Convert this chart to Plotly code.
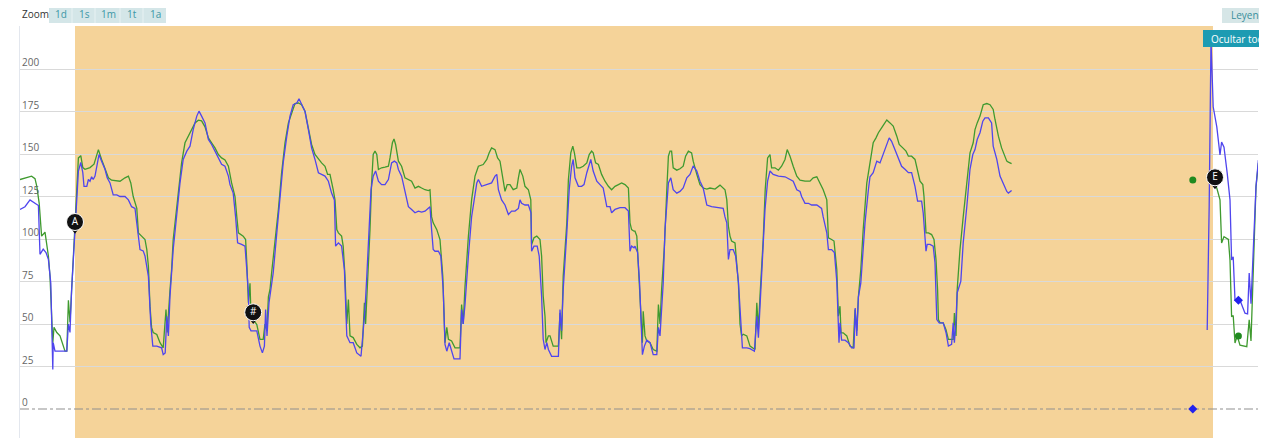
import plotly.graph_objects as go

# ---------------- data (time in hours, values in %) ----------------
green_t = [0.0, 2.9, 3.75, 4.2, 4.8, 5.2, 5.4, 6.25, 6.7, 7.1, 7.5, 7.9, 8.2, 8.5, 9.2, 10.0, 10.8, 11.25, 11.7,
           12.1, 12.5, 12.9, 13.3, 13.75, 14.2, 14.6, 15.2, 15.7, 16.25, 17.5, 18.5, 19.2, 19.6, 20.4, 21.25, 22.1,
           22.9, 25.0, 26.25, 27.1, 27.7, 28.3, 29.2, 29.6, 30.4, 31.25, 31.7, 32.1, 32.5, 32.9, 33.3, 34.2, 35.0,
           35.8, 36.5, 36.8, 37.5, 37.9, 38.3, 38.75, 39.6, 40.4, 41.25, 42.1, 42.9, 43.75, 44.6, 45.4, 46.25, 47.1,
           47.9, 48.75, 49.6, 50.4,
           51.25, 52.1, 52.9, 53.75, 54.2, 54.6, 55.8, 56.4, 56.7, 57.1, 57.5, 57.75, 58.3, 59.2, 60.0, 60.8, 61.25,
           61.7, 62.1, 62.5, 62.9, 63.75, 64.6, 65.4, 66.25, 67.1, 67.9, 68.75, 69.6, 70.4, 71.25, 72.1, 72.9, 73.75,
           74.6, 75.4, 76.25, 76.9, 77.5, 77.9, 78.3, 78.75, 79.2, 79.6, 80.4, 80.8, 81.25, 81.7, 82.1, 82.5, 83.3,
           84.2, 85.0, 85.6, 86.1, 86.4, 86.9, 87.5, 87.9, 88.3, 88.75, 89.2, 89.6, 90.4, 91.25, 92.1, 92.5, 93.1,
           93.5, 93.9, 94.6, 95.4, 96.25, 97.1, 97.9, 98.75, 99.6, 100.4, 101.25, 102.1,
           102.5, 102.9, 103.3, 104.2, 105.0, 105.7, 106.25, 106.7, 107.1, 107.9, 108.75, 110.0, 110.4, 110.8,
           111.25, 112.1, 112.9, 113.75, 114.6, 115.8, 116.7, 117.3, 117.9, 118.75, 119.4, 120.0, 120.7, 121.25,
           121.8, 122.5, 123.3, 124.2, 124.6, 125.0, 125.7, 126.25, 127.1, 127.7, 127.9, 128.5, 129.2, 130.0, 130.4,
           130.8, 131.25, 131.5, 132.1, 132.5, 133.3, 134.6, 135.0, 135.4, 135.8, 136.7, 137.1, 137.7, 138.2, 138.6,
           139.2, 140.0, 140.8, 141.7, 142.3, 142.9, 143.3, 143.9, 144.6, 145.4, 146.25, 147.1, 147.9, 148.75,
           149.6, 150.4, 151.25, 152.1, 152.5, 152.9, 153.5,
           153.75, 154.2, 154.75, 155.25, 155.6, 155.8, 156.25, 156.7, 157.5, 158.3, 159.2, 159.6, 160.0, 160.4,
           161.1, 161.7, 162.1, 162.5, 162.9, 163.3, 164.2, 165.0, 165.8, 166.4, 167.1, 167.9, 168.3, 169.2, 170.0,
           170.8, 171.7, 172.5, 173.75, 175.0, 176.25, 176.7, 177.1, 177.5, 177.9, 178.75, 179.2, 179.6, 180.0,
           180.4, 180.8, 181.7, 182.5, 183.75, 184.2, 184.6, 185.0, 185.8, 186.3, 186.9, 187.5, 187.9, 188.75,
           189.6, 190.4, 191.25, 191.8, 192.5, 193.3, 194.2, 195.0, 196.25, 197.5, 198.3, 199.2, 199.75, 200.8,
           201.7, 202.1, 202.9, 203.5, 204.2, 204.6,
           205.0, 205.25, 205.8, 206.7, 207.5, 208.3, 208.75, 209.2, 209.6, 210.2, 210.8, 211.7, 212.5, 213.3,
           214.0, 214.6, 215.4, 216.0, 216.7, 217.5, 218.3, 219.2, 219.8, 220.7, 221.5, 222.1, 222.9, 223.75,
           224.3, 225.0, 225.7, 226.0, 226.5, 227.1, 227.9, 228.5, 229.0, 229.4, 229.6, 230.0, 230.8, 231.5,
           232.1, 233.3, 233.6, 234.0, 234.3, 235.0, 235.8, 236.7, 237.5, 238.3, 238.75, 239.3, 240.0, 240.8,
           241.7, 242.5, 243.3, 243.75, 244.6, 245.4, 246.25, 246.7, 247.1, 247.9,
           None,
           297.9, 298.3, 299.2, 300.0, 300.4, 301.0, 302.1, 302.5, 302.9, 303.3, 303.75, 304.3, 305.0, 306.7,
           307.3, 307.75, 308.5, 309.0, 309.6]
green_v = [135, 137, 135.5, 131, 121, 109, 101.7, 104, 97, 90, 78, 60, 39, 48, 45, 43, 37, 34, 34,
           64, 51, 70, 82, 109.5, 133, 147.7, 149, 142, 141, 142, 144, 149, 152.6, 146.8, 141, 136,
           134.6, 134, 136, 137, 133, 125, 118, 103.6, 101.7, 99.7, 93.8, 84, 60.5, 48, 45, 43.8, 39,
           36, 58.5, 45, 70, 82, 99.7, 109.5, 127, 144.8, 156.6, 160.5, 164.4, 168.3, 169.9, 169.5, 166, 159.5,
           156.6, 153.6, 149.7, 147.7,
           146.5, 142.8, 133, 125, 113, 103.6, 101.7, 99.7, 86, 62.5, 74, 54.6, 52.6, 49.7, 41, 41, 50,
           46, 66, 70.3, 80, 97.7, 117.4, 139, 156.6, 168.3, 174.2, 179.7, 180, 179, 175.2, 164.4, 155.6, 149.7,
           146.8, 144.8, 142.8, 138, 138, 134, 129, 123, 105.5, 103.6, 101.7, 95.8, 78, 50, 64.4, 43, 42,
           38, 36, 37, 62.5, 50, 74, 105.5, 133, 149.7, 151.7, 149.7, 140.9, 141.9, 142.3, 142.8, 147.7, 156.6,
           158.9, 155.6, 145.8, 142.8, 136, 135, 134, 130, 131, 130, 129, 128.5,
           129, 113, 109.5, 105.5, 99.7, 78, 39, 48, 41, 40, 36, 36, 61.4, 50,
           72, 101.7, 123, 137, 142.8, 143.8, 146.8, 150.7, 153.6, 152.6, 147.7, 145.8, 137, 128,
           132, 132, 129, 130, 136, 140.9, 137, 131, 129, 123, 96.8, 100.7, 101.7, 99.7, 90,
           66.4, 54.6, 39, 43, 43, 37, 37, 56.5, 41, 78, 109.5, 135, 150.7, 154.6, 150.7,
           141.9, 141.9, 142.8, 144.8, 149.7, 151.7, 150.7, 144.8, 143.8, 138, 134, 131, 129, 131,
           132, 133, 132, 130, 109.5, 105.5, 104.6,
           104.6, 101.7, 78, 50, 39, 57.5, 43, 40, 39, 35, 34, 61.4, 50, 70.3,
           95.8, 129, 148.7, 151.7, 151.7, 141.9, 140.5, 141.3, 142.8, 148.7, 151.7, 150.7, 145.8, 138, 132,
           130, 129.4, 130, 129.4, 131.7, 129, 123, 107.5, 101.7, 98.8, 97.7, 86, 74, 50,
           43, 44, 43, 37, 35, 62.5, 47, 66.4, 99.7, 129, 147.7, 149.7, 141.9, 141.9,
           140.5, 142.8, 146.8, 152.6, 148.7, 142.8, 137, 134.6, 134, 134, 136, 136.6, 134, 129,
           123, 100.7, 99.7, 98.8, 82, 54.6,
           60.5, 44.8, 44.8, 43, 37, 36, 58.5, 46, 66, 82, 105.6, 133, 144.8, 156.6,
           159.5, 162.5, 165.4, 167.4, 170, 168.3, 166.4, 160.5, 155.6, 153.6, 151.7, 148.7, 148.7, 146.8,
           141, 134, 132, 125, 103.6, 103.6, 102.6, 99.7, 87.9, 70, 52.6, 50.7, 50.7, 46.7,
           41, 41, 56.5, 43, 70.3, 93.8, 113, 133, 150.7, 156.6, 164.4, 168.3, 172.3, 179,
           179.7, 179, 176.2, 170.3, 160.5, 153.6, 148.7, 145.8, 145.2, 144.4,
           None,
           134, 132.7, 130, 123, 97.6, 101.4, 99.8, 87.6, 54.3, 55, 38.8, 43, 37.6, 36.7,
           52.4, 40, 103.5, 130.8, 144.7]

blue_t = [0.0, 1.25, 2.5, 3.75, 4.6, 5.0, 5.8, 6.5, 7.1, 7.7, 8.0, 8.2, 8.3, 8.75, 10.0, 11.7, 12.1, 12.5, 12.9,
          13.3, 13.75, 14.2, 14.6, 15.2, 15.7, 16.0, 16.7, 17.1, 17.5, 17.9, 18.3, 18.75, 19.2, 19.75, 20.4, 21.25,
          21.8, 22.5, 23.3, 24.2, 25.0, 26.25, 27.1, 27.9, 28.75, 29.6, 30.0, 30.8, 31.25, 32.1, 32.7, 33.2, 34.2,
          35.4, 35.8, 36.3, 36.7, 37.1, 37.5, 38.3, 39.2, 40.0, 40.8, 41.7, 42.5, 43.3, 44.2, 44.75, 45.4, 46.25,
          47.1, 47.9, 48.75, 49.6, 50.4,
          51.25, 52.1, 52.5, 53.3, 53.9, 54.4, 55.4, 56.25, 56.7, 57.1, 57.3, 57.75, 59.2, 59.6, 60.0, 60.6, 61.1,
          61.4, 61.75, 62.25, 62.75, 63.3, 64.2, 65.0, 65.8, 66.7, 67.5, 68.3, 69.2, 69.75, 70.4, 71.25, 72.1,
          72.9, 73.75, 74.6, 75.4, 76.25, 77.1, 77.9, 78.6, 78.9, 79.6, 80.4, 81.1, 81.7, 82.5, 83.3, 84.2, 85.25,
          85.8, 86.25, 86.7, 87.1, 87.75, 88.3, 88.9, 89.6, 90.4, 91.25, 92.1, 92.9, 93.6, 94.2, 94.6, 95.4, 96.25,
          97.1, 97.9, 98.75, 99.6, 100.4, 101.25, 102.1,
          102.5, 102.9, 103.3, 103.75, 104.6, 105.2, 105.8, 106.25, 106.7, 107.3, 107.9, 108.5, 110.0, 110.4,
          110.8, 111.25, 112.1, 112.9, 114.2, 114.6, 115.4, 116.7, 117.9, 118.75, 119.2, 119.6, 120.4, 121.25,
          122.1, 122.9, 123.75, 124.6, 125.0, 125.4, 126.25, 127.1, 127.75, 127.9, 128.5, 129.3, 129.8, 130.4,
          130.8, 131.25, 131.7, 132.1, 132.9, 134.6, 135.0, 135.4, 135.8, 136.7, 137.3, 137.9, 138.3, 138.75,
          139.6, 140.4, 141.0, 141.7, 142.3, 142.7, 143.3, 144.2, 145.0, 145.8, 146.7, 147.5, 147.9, 148.75,
          150.0, 151.25, 152.1, 152.5, 152.9, 153.5,
          153.75, 154.4, 154.9, 155.25, 155.6, 156.1, 156.7, 157.5, 158.3, 159.2, 159.6, 160.0, 160.4, 160.8,
          161.25, 161.7, 162.1, 162.7, 163.3, 164.2, 165.0, 165.8, 166.7, 167.5, 168.3, 169.2, 170.0, 170.8,
          171.25, 171.7, 172.9, 174.6, 175.8, 176.25, 176.7, 177.1, 177.5, 178.3, 178.9, 179.6, 180.25, 180.6,
          181.7, 182.5, 183.6, 184.2, 184.6, 185.0, 185.6, 186.25, 186.9, 187.5, 188.3, 189.6, 191.25, 192.5,
          193.3, 194.2, 195.0, 195.4, 196.25, 197.1, 197.9, 199.2, 200.4, 200.8, 201.7, 202.1, 202.9, 203.6,
          204.2, 204.75,
          205.0, 205.4, 206.25, 207.1, 207.9, 208.5, 208.8, 209.2, 209.6, 210.2, 210.6, 211.25, 212.1, 212.5,
          213.3, 214.2, 215.0, 215.8, 216.7, 217.3, 217.9, 218.75, 219.6, 220.4, 221.25, 222.1, 222.9, 223.75,
          224.4, 225.4, 225.8, 226.25, 226.5, 226.8, 227.5, 228.3, 228.75, 229.2, 229.8, 230.8, 231.5, 232.1,
          232.9, 233.3, 233.6, 234.0, 234.3, 235.2, 235.8, 236.7, 237.5, 238.2, 238.75, 239.3, 240.0, 240.7,
          241.25, 242.1, 242.9, 243.3, 244.2, 245.0, 245.7, 246.25, 246.7, 247.1, 247.9,
          None,
          296.8, 297.3, 297.75, 298.3, 299.2, 300.0, 300.4, 301.0, 301.8, 302.5, 302.9, 303.3, 303.75, 305.0,
          306.25, 306.9, 307.3, 307.75, 308.5, 309.0, 309.6]
blue_v = [117.4, 119, 123, 121, 119.7, 91, 94, 92, 88, 74, 50, 23.2, 39, 34, 34, 34, 50, 45, 70,
          86, 107.5, 125, 140, 145, 139, 131, 131, 135, 134, 136.6, 135, 137, 144, 149.7, 145.8, 141,
          136, 133, 126, 126, 125, 125, 123, 119, 118, 101.7, 93.8, 93, 90, 78, 50, 37, 37,
          36, 32, 33, 54.6, 43, 66.4, 93.8, 115.4, 133, 146.8, 151.7, 154.6, 164.4, 172.3, 175.2, 172.3, 168.3,
          158.5, 155.6, 151.7, 147.7, 144,
          142.8, 137, 132, 127, 113, 97.7, 96.8, 95.8, 82, 68.3, 48, 46, 46, 41, 37, 33, 37,
          58.5, 43, 62.5, 70.3, 80, 103.6, 123, 144.8, 160.5, 172.3, 179, 180, 182.5, 179, 175, 164.4,
          153.6, 146.8, 139, 138, 137, 134, 127, 123, 95.8, 97.7, 95.8, 82, 43, 39, 39, 33, 31,
          46, 58.5, 78, 99.7, 129, 137, 140, 134, 132, 132, 135, 144.8, 145.8, 144.8, 140.9, 137, 127,
          119, 117.4, 115.4, 116.4, 115.8, 116.4, 118,
          119, 105.5, 93.8, 92.8, 92.8, 90, 70.3, 38, 34, 39, 34, 29.5, 29.5, 58.5,
          50, 61.4, 90, 113, 133, 135, 131, 132, 133, 137, 138, 129, 123, 120,
          114.4, 116.4, 116.4, 118, 123, 121, 120, 120, 115.4, 92.8, 95.8, 95.8, 90, 66.4,
          41, 35, 39, 35, 31, 31, 58.5, 46, 70.3, 103.6, 129, 142.8, 146.8, 136,
          131, 131, 132, 139, 144, 146.8, 140, 134, 132, 130, 119, 119, 115.4, 117.4,
          118.4, 118.4, 116.4, 92.8, 95.8, 94.8,
          95.8, 92, 74, 46, 32, 37, 40.5, 39, 32, 32, 48, 43, 62.5, 74,
          105.6, 123, 133, 136, 129, 127, 128, 130, 136, 138, 143, 140, 134, 130,
          125, 120, 119, 118.6, 118, 113, 109.5, 88, 93.8, 93.8, 90, 75, 44.8, 36,
          36, 35.5, 34, 54.6, 42, 61.4, 90, 117.4, 134, 140, 138, 137, 136.6, 135,
          134, 129, 128, 125, 121, 121, 120, 120, 118, 113, 103.6, 93.8, 93.8, 92,
          75, 39,
          50.7, 40.5, 40.5, 39, 36, 36, 59.4, 43, 66, 74, 90, 109.5, 129, 136.6,
          139, 145.8, 144.8, 149.7, 155.6, 159.5, 157.5, 152.6, 146.8, 142.8, 141, 139, 139, 131,
          122.3, 122.3, 115.4, 101.7, 92.8, 96.8, 96.8, 95.8, 86, 52.6, 50.7, 50.7, 45, 37,
          38, 50.7, 39, 52.6, 68.4, 75, 97.7, 119, 141, 149.7, 152.6, 158.5, 162.5, 169.3,
          171.3, 171.3, 168.3, 154.6, 146.8, 137, 133, 131, 128, 127, 128.5,
          None,
          46.5, 120, 217, 177.8, 166, 149.4, 157, 154, 138.8, 123, 87.6, 89.6, 64, 64,
          56.4, 56, 80, 62, 103.5, 130.8, 146.5]

zero_t = [0, 309.5]
zero_v = [0, 0]

green_pts_t = [293.2, 304.6]
green_pts_v = [134.7, 43]
blue_pts_t = [293.2, 304.6]
blue_pts_v = [0, 64]

flag_t = [13.75, 58.3, 298.75]
flag_v = [110, 56.9, 136.3]
flag_text = ["A", "#", "E"]

band_start, band_end = 13.75, 298.25
y_ticks = [0, 25, 50, 75, 100, 125, 150, 175, 200]
zoom_buttons = ["1d", "1s", "1m", "1t", "1a"]

# ---------------- figure ----------------
OFF = 8                      # page body margin of the browser
PAGE_W, PAGE_H = 1267, 438
W, H = PAGE_W - OFF, PAGE_H - OFF
L, R, T, B = 20 - OFF, 9, 26 - OFF, 0
GREEN = "#3f9a2f"
BLUE = "#4f45ee"

fig = go.Figure()

fig.add_trace(go.Scatter(x=zero_t, y=zero_v, mode="lines",
                         line=dict(color="#8f8f8f", width=1.2, dash="dashdot"), hoverinfo="skip"))
fig.add_trace(go.Scatter(x=green_t, y=green_v, mode="lines", connectgaps=False,
                         line=dict(color=GREEN, width=1.3), name="verde"))
fig.add_trace(go.Scatter(x=blue_t, y=blue_v, mode="lines", connectgaps=False,
                         line=dict(color=BLUE, width=1.3), name="azul"))
fig.add_trace(go.Scatter(x=green_pts_t, y=green_pts_v, mode="markers",
                         marker=dict(color="#1f8a1f", size=7, symbol="circle")))
fig.add_trace(go.Scatter(x=blue_pts_t, y=blue_pts_v, mode="markers",
                         marker=dict(color="#2222ee", size=7, symbol="diamond")))
# flag pins
fig.add_trace(go.Scatter(x=flag_t, y=[v - 5.2 for v in flag_v], mode="markers",
                         marker=dict(color="#111111", size=6, symbol="triangle-down")))
fig.add_trace(go.Scatter(x=flag_t, y=flag_v, mode="markers+text", text=flag_text,
                         textposition="middle center",
                         textfont=dict(color="white", size=10, family="Open Sans"),
                         marker=dict(color="#111111", size=17, symbol="circle",
                                     line=dict(color="white", width=1))))

def px_x(px):
    return (px - OFF - L) / (W - L - R)

def px_y(py):
    return (OFF + H - B - py) / (H - T - B)

shapes = [
    dict(type="rect", xref="x", yref="paper", x0=band_start, x1=band_end, y0=0, y1=1,
         fillcolor="#f5d399", line_width=0, layer="below"),
    # zoom buttons
    dict(type="rect", xref="paper", yref="paper", x0=px_x(49), x1=px_x(166), y0=px_y(23), y1=px_y(6),
         fillcolor="#d4e6e8", line_width=0, layer="above"),
    # legend button
    dict(type="rect", xref="paper", yref="paper", x0=px_x(1222), x1=px_x(1275), y0=px_y(23), y1=px_y(7),
         fillcolor="#d6e6e7", line_width=0, layer="above"),
    # hide all button
    dict(type="rect", xref="paper", yref="paper", x0=px_x(1203), x1=px_x(1275), y0=px_y(47), y1=px_y(30),
         fillcolor="#1d9bb2", line_width=0, layer="above"),
]
for sep in [72, 95, 120, 143]:
    shapes.append(dict(type="line", xref="paper", yref="paper", x0=px_x(sep), x1=px_x(sep),
                       y0=px_y(23), y1=px_y(6), line=dict(color="#e8f2f3", width=1), layer="above"))

annotations = []
for v in y_ticks:
    annotations.append(dict(x=0, xref="paper", y=v, yref="y", text=str(v), showarrow=False,
                            xanchor="left", yanchor="bottom", xshift=0, yshift=-2,
                            font=dict(size=10, color="#666666", family="Open Sans")))
annotations.append(dict(x=px_x(20), xref="paper", y=px_y(14), yref="paper", text="Zoom", showarrow=False,
                        xanchor="left", yanchor="middle", font=dict(size=10, color="#333333", family="Open Sans")))
for lbl, cx in zip(zoom_buttons, [61, 84, 108, 132, 155]):
    annotations.append(dict(x=px_x(cx), xref="paper", y=px_y(14), yref="paper", text=lbl, showarrow=False,
                            xanchor="center", yanchor="middle",
                            font=dict(size=10, color="#3d97a6", family="Open Sans")))
annotations.append(dict(x=px_x(1229), xref="paper", y=px_y(15), yref="paper", text="Leyenda", showarrow=False,
                        xanchor="left", yanchor="middle", font=dict(size=10, color="#3a8f9c", family="Open Sans")))
annotations.append(dict(x=px_x(1209), xref="paper", y=px_y(38.5), yref="paper", text="Ocultar todo",
                        showarrow=False, xanchor="left", yanchor="middle",
                        font=dict(size=10, color="white", family="Open Sans")))

fig.update_layout(
    width=W, height=H,
    margin=dict(l=L, r=R, t=T, b=B, pad=0),
    paper_bgcolor="white", plot_bgcolor="white",
    showlegend=False,
    shapes=shapes, annotations=annotations,
    xaxis=dict(range=[0, 309.5], showticklabels=False, showgrid=False, zeroline=False,
               showline=False, ticks=""),
    yaxis=dict(range=[-17.06, 225.3], tickvals=[25, 50, 75, 100, 125, 150, 175, 200, 225],
               showticklabels=False, showgrid=True, gridcolor="#d9d9d9", gridwidth=1,
               zeroline=False, showline=True, linecolor="#e3e7ee", linewidth=1, ticks=""),
)

fig.write_html("out.html")
